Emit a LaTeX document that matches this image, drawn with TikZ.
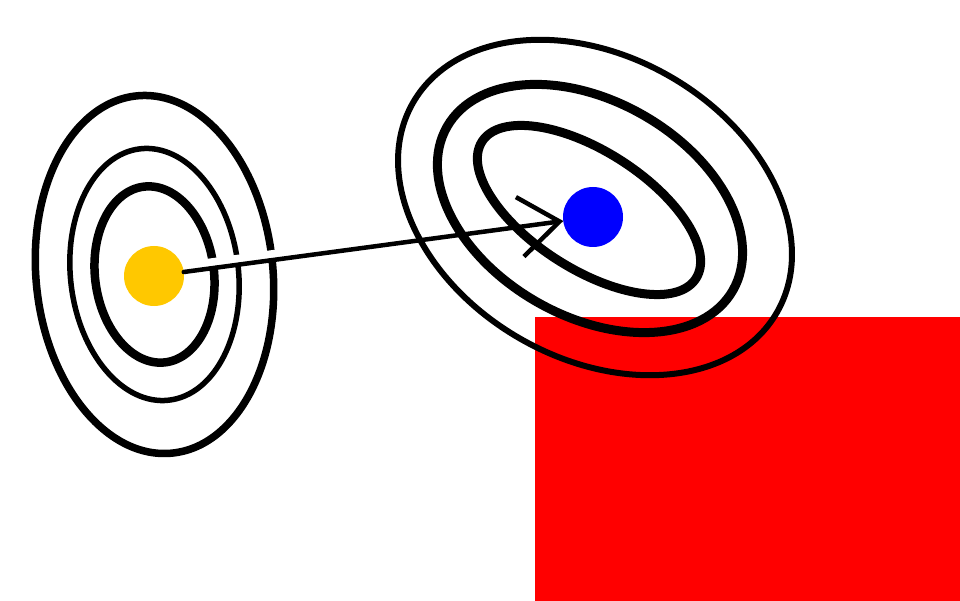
\documentclass[tikz,border=0pt]{standalone}
\usetikzlibrary{arrows.meta,calc}
\definecolor{dotyellow}{RGB}{255,200,0}
\definecolor{dotblue}{RGB}{0,0,255}
\definecolor{boxred}{RGB}{255,0,0}
\begin{document}
\begin{tikzpicture}[x=1pt,y=-1pt,
  ring/.style={draw=black},
  dot/.style={circle,inner sep=0pt,outer sep=0pt,minimum size=60pt},
  conn/.style={draw=black,line width=4.5pt,line cap=round,-{Straight Barb[length=40pt,width=60pt]}}]
\useasboundingbox (0,0) rectangle (960,601);
\fill[boxred] (535,317) rectangle (960,601);
% left target
\coordinate (lc) at (154.5,274.5);
\draw[ring,line width=7.5pt,rotate around={5.6:(lc)}] (lc) ellipse [x radius=118.5pt,y radius=179.5pt];
\draw[ring,line width=5.5pt,rotate around={6.5:(lc)}] (lc) ellipse [x radius=84pt,y radius=126.5pt];
\draw[ring,line width=8.5pt,rotate around={7:(lc)}] (lc) ellipse [x radius=59.5pt,y radius=88.5pt];
% right target
\coordinate (rc1) at (589,210);
\coordinate (rc2) at (590,208.5);
\coordinate (rc3) at (595,207.5);
\draw[ring,line width=6pt,rotate around={-30:(rc3)}] (rc3) ellipse [x radius=210pt,y radius=151pt];
\draw[ring,line width=9pt,rotate around={-29.8:(rc2)}] (rc2) ellipse [x radius=164.7pt,y radius=107.5pt];
\draw[ring,line width=9pt,rotate around={-32.6:(rc1)}] (rc1) ellipse [x radius=127pt,y radius=59pt];
% dots
\node[dot] (y) at (154,276) {};
\node[dot] (b) at (593,217) {};
\path (y) -- (b) coordinate[pos=0] (m1) coordinate[pos=0.27] (m2);
\draw[white,line width=8pt] ($(m1)+(0,-6)$) -- ($(m2)+(0,-6)$);
\fill[dotyellow] (y) circle [radius=30pt];
\fill[dotblue] (b) circle [radius=30pt];
\draw[conn] (y) -- (b);
\end{tikzpicture}
\end{document}
